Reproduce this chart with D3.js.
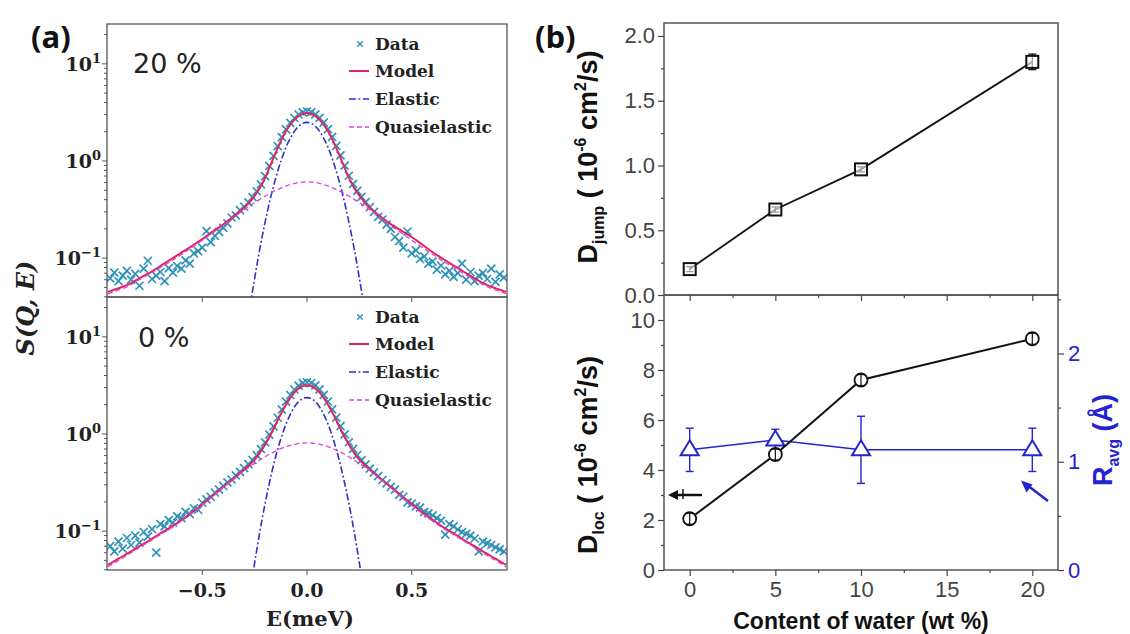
<!DOCTYPE html>
<html><head><meta charset="utf-8">
<script src="https://cdn.jsdelivr.net/npm/d3@7"></script>
<style>html,body{margin:0;padding:0;background:#fff;} svg{display:block;}</style>
</head><body>
<svg id="fig" width="1130" height="634"></svg>
<script>
// ---------- (a) QENS spectra: energy transfer grids (meV) ----------
const curveEnergy = [-0.95,-0.9,-0.85,-0.8,-0.75,-0.7,-0.65,-0.6,-0.55,-0.5,-0.45,-0.4,-0.35,-0.3,-0.275,-0.25,-0.225,-0.2,-0.175,-0.15,-0.125,-0.1,-0.075,-0.05,-0.025,0,0.025,0.05,0.075,0.1,0.125,0.15,0.175,0.2,0.225,0.25,0.275,0.3,0.35,0.4,0.45,0.5,0.55,0.6,0.65,0.7,0.75,0.8,0.85,0.9,0.95];
const elasticEnergy = [-0.3,-0.275,-0.25,-0.225,-0.2,-0.175,-0.15,-0.125,-0.1,-0.075,-0.05,-0.025,0,0.025,0.05,0.075,0.1,0.125,0.15,0.175,0.2,0.225,0.25,0.275,0.3];
const dataEnergy = [-0.94,-0.92,-0.9,-0.88,-0.86,-0.84,-0.82,-0.8,-0.78,-0.76,-0.74,-0.72,-0.7,-0.68,-0.66,-0.64,-0.62,-0.6,-0.58,-0.56,-0.54,-0.52,-0.5,-0.48,-0.46,-0.44,-0.42,-0.4,-0.38,-0.36,-0.34,-0.32,-0.3,-0.28,-0.26,-0.24,-0.22,-0.2,-0.18,-0.16,-0.14,-0.12,-0.1,-0.08,-0.06,-0.04,-0.02,0,0.02,0.04,0.06,0.08,0.1,0.12,0.14,0.16,0.18,0.2,0.22,0.24,0.26,0.28,0.3,0.32,0.34,0.36,0.38,0.4,0.42,0.44,0.46,0.48,0.5,0.52,0.54,0.56,0.58,0.6,0.62,0.64,0.66,0.68,0.7,0.72,0.74,0.76,0.78,0.8,0.82,0.84,0.86,0.88,0.9,0.92,0.94];

// 20 wt% water
const data20 = [0.062,0.071,0.058,0.066,0.074,0.060,0.069,0.052,0.078,0.094,0.061,0.066,0.072,0.058,0.079,0.071,0.083,0.078,0.095,0.088,0.112,0.118,0.128,0.190,0.146,0.170,0.186,0.205,0.228,0.262,0.276,0.312,0.338,0.375,0.425,0.488,0.575,0.700,0.890,1.130,1.420,1.760,2.120,2.470,2.770,3.010,3.170,
  3.230,
  3.180,3.020,2.780,2.480,2.130,1.770,1.430,1.140,0.895,0.705,0.580,0.492,0.428,0.378,0.335,0.300,0.266,0.250,0.221,0.200,0.165,0.150,0.128,0.188,0.112,0.120,0.098,0.104,0.088,0.092,0.076,0.084,0.068,0.074,0.064,0.070,0.088,0.060,0.072,0.058,0.066,0.070,0.061,0.078,0.057,0.068,0.063];
const model20 = [0.045,0.049,0.054,0.062,0.071,0.083,0.097,0.114,0.133,0.157,0.188,0.222,0.27,0.33,0.375,0.44,0.53,0.67,0.90,1.21,1.60,2.03,2.44,2.79,3.02,3.11,3.02,2.79,2.44,2.03,1.60,1.21,0.90,0.67,0.53,0.44,0.375,0.33,0.27,0.224,0.192,0.165,0.138,0.115,0.098,0.084,0.072,0.062,0.054,0.049,0.045];
const quasi20 = [0.043,0.047,0.052,0.060,0.069,0.080,0.093,0.109,0.129,0.153,0.182,0.215,0.262,0.316,0.343,0.372,0.403,0.434,0.466,0.497,0.526,0.553,0.576,0.594,0.606,0.610,0.606,0.594,0.576,0.553,0.526,0.497,0.466,0.434,0.403,0.372,0.343,0.316,0.262,0.215,0.182,0.153,0.129,0.109,0.093,0.080,0.069,0.060,0.052,0.047,0.043];
const elastic20 = [0.012,0.029,0.062,0.126,0.235,0.41,0.66,0.99,1.39,1.79,2.16,2.41,2.50,2.41,2.16,1.79,1.39,0.99,0.66,0.41,0.235,0.126,0.062,0.029,0.012];

// 0 wt% water
const data0 = [0.070,0.062,0.078,0.066,0.085,0.072,0.090,0.076,0.098,0.088,0.105,0.060,0.118,0.112,0.130,0.122,0.142,0.136,0.158,0.150,0.172,0.166,0.196,0.212,0.226,0.250,0.268,0.292,0.318,0.340,0.375,0.408,0.445,0.490,0.540,0.605,0.700,0.820,0.985,1.200,1.470,1.780,2.150,2.520,2.870,3.150,3.340,
  3.410,
  3.350,3.160,2.880,2.530,2.160,1.790,1.475,1.205,0.990,0.822,0.702,0.608,0.538,0.486,0.440,0.402,0.368,0.336,0.310,0.286,0.268,0.236,0.226,0.198,0.192,0.180,0.175,0.158,0.152,0.145,0.136,0.128,0.092,0.118,0.112,0.104,0.098,0.094,0.090,0.084,0.062,0.078,0.075,0.072,0.068,0.065,0.062];
const model0 = [0.045,0.052,0.060,0.070,0.081,0.095,0.110,0.130,0.155,0.188,0.231,0.285,0.347,0.428,0.48,0.545,0.64,0.78,0.97,1.25,1.60,2.01,2.44,2.82,3.08,3.18,3.08,2.82,2.44,2.01,1.60,1.25,0.97,0.78,0.64,0.545,0.48,0.428,0.347,0.285,0.231,0.190,0.157,0.131,0.110,0.095,0.081,0.070,0.060,0.052,0.045];
const quasi0 = [0.043,0.050,0.058,0.068,0.079,0.092,0.107,0.127,0.152,0.185,0.228,0.282,0.345,0.420,0.458,0.498,0.540,0.583,0.626,0.667,0.706,0.741,0.770,0.792,0.805,0.81,0.805,0.792,0.770,0.741,0.706,0.667,0.626,0.583,0.540,0.498,0.458,0.420,0.345,0.282,0.228,0.185,0.152,0.127,0.107,0.092,0.079,0.068,0.058,0.050,0.043];
const elastic0 = [0.0084,0.021,0.047,0.099,0.193,0.347,0.58,0.89,1.27,1.67,2.03,2.28,2.37,2.28,2.03,1.67,1.27,0.89,0.58,0.347,0.193,0.099,0.047,0.021,0.0084];

const energyTicks = [-0.5, 0, 0.5];
const energyTickLabels = ['\u22120.5', '0.0', '0.5'];
const legendLabels = ['Data', 'Model', 'Elastic', 'Quasielastic'];

// ---------- (b) fitted parameters vs water content ----------
const waterContent = [0, 5, 10, 20];
const dJump = [0.20, 0.66, 0.97, 1.80];
const dJumpErr = [0.02, 0.02, 0.02, 0.06];
const dLoc = [2.05, 4.62, 7.60, 9.25];
const dLocErr = [0.22, 0.22, 0.22, 0.22];
const rAvg = [1.11, 1.20, 1.11, 1.11];
const rAvgErr = [0.20, 0.10, 0.31, 0.20];

const waterTicks = [0, 5, 10, 15, 20];
const waterMinor = [2.5, 7.5, 12.5, 17.5];
const jumpTicks = [0, 0.5, 1.0, 1.5, 2.0];
const jumpMinor = [0.25, 0.75, 1.25, 1.75];
const locTicks = [0, 2, 4, 6, 8, 10];
const locMinor = [1, 3, 5, 7, 9];
const radiusTicks = [0, 1, 2];
const radiusMinor = [0.5, 1.5, 2.5];

// ---------- styles ----------
const serif = "'DejaVu Serif', serif";
const sans = "'Liberation Sans', Arial, sans-serif";
const frameColor = '#555';
const dataColor = '#2f92b8';
const modelColor = '#e0245e';
const elasticColor = '#3030c8';
const quasiColor = '#e040d8';
const blue = '#2323d0';

const svg = d3.select('#fig');

// ======================= panel (a) =======================
const xE = d3.scaleLinear().domain([-0.955, 0.955]).range([107, 507]);
const spectra = [
  {top: 24, bottom: 297, tag: '20 %', tagX: 133, tagY: 73, data: data20, model: model20, quasi: quasi20, elastic: elastic20, id: 'c20'},
  {top: 297, bottom: 570, tag: '0 %', tagX: 138, tagY: 347, data: data0, model: model0, quasi: quasi0, elastic: elastic0, id: 'c0'}
];

const defs = svg.append('defs');
const xMark = 'M-4,-4L4,4M-4,4L4,-4';

spectra.forEach(p => {
  const y = d3.scaleLog().domain([Math.pow(10, -1.4), Math.pow(10, 1.41)]).range([p.bottom, p.top]);
  const g = svg.append('g');
  defs.append('clipPath').attr('id', p.id).append('rect')
    .attr('x', 107).attr('y', p.top).attr('width', 400).attr('height', p.bottom - p.top);
  const plot = g.append('g').attr('clip-path', `url(#${p.id})`);

  // data markers
  plot.selectAll('path.pt').data(p.data).join('path')
    .attr('class', 'pt')
    .attr('transform', (d, i) => `translate(${xE(dataEnergy[i])},${y(d)})`)
    .attr('d', xMark).attr('stroke', dataColor).attr('stroke-width', 1.7).attr('fill', 'none');

  const line = (xs) => d3.line().x((d, i) => xE(xs[i])).y(d => y(d)).curve(d3.curveMonotoneX);
  plot.append('path').datum(p.model).attr('d', line(curveEnergy))
    .attr('fill', 'none').attr('stroke', modelColor).attr('stroke-width', 2);
  plot.append('path').datum(p.elastic).attr('d', line(elasticEnergy))
    .attr('fill', 'none').attr('stroke', elasticColor).attr('stroke-width', 1.6)
    .attr('stroke-dasharray', '7,2.5,1.8,2.5');
  plot.append('path').datum(p.quasi).attr('d', line(curveEnergy))
    .attr('fill', 'none').attr('stroke', quasiColor).attr('stroke-width', 1.3)
    .attr('stroke-dasharray', '5,3');

  // frame
  g.append('rect').attr('x', 107).attr('y', p.top).attr('width', 400).attr('height', p.bottom - p.top)
    .attr('fill', 'none').attr('stroke', frameColor).attr('stroke-width', 1.3);

  // log ticks on the left
  y.ticks().forEach(v => {
    const major = Math.abs(Math.log10(v) - Math.round(Math.log10(v))) < 1e-9;
    g.append('line').attr('x1', 107).attr('x2', 107 - (major ? 5 : 3))
      .attr('y1', y(v)).attr('y2', y(v)).attr('stroke', frameColor).attr('stroke-width', 1);
    if (major) {
      const e = Math.round(Math.log10(v));
      const t = g.append('text').attr('x', 101).attr('y', y(v) + 7)
        .attr('text-anchor', 'end').attr('font-family', serif).attr('font-weight', 'bold')
        .attr('font-size', 19).attr('fill', '#222');
      t.append('tspan').text('10');
      t.append('tspan').attr('dy', -8).attr('font-size', 13).text(e < 0 ? '\u2212' + (-e) : String(e));
    }
  });

  // energy ticks at the bottom
  energyTicks.forEach(v => {
    g.append('line').attr('x1', xE(v)).attr('x2', xE(v)).attr('y1', p.bottom).attr('y2', p.bottom + 5)
      .attr('stroke', frameColor).attr('stroke-width', 1);
  });

  // composition tag
  g.append('text').attr('x', p.tagX).attr('y', p.tagY).attr('font-family', "'DejaVu Sans', sans-serif")
    .attr('font-size', 27).attr('fill', '#222').text(p.tag);

  // legend
  const lg = g.append('g').attr('transform', `translate(0,${p.top - 24})`);
  const rows = [50, 77, 105, 133];
  legendLabels.forEach((lab, i) => {
    lg.append('text').attr('x', 375).attr('y', rows[i]).attr('font-family', serif)
      .attr('font-weight', 'bold').attr('font-size', 17).attr('fill', '#222').text(lab);
  });
  lg.append('path').attr('transform', `translate(360,${rows[0] - 6})`).attr('d', 'M-2.8,-2.8L2.8,2.8M-2.8,2.8L2.8,-2.8')
    .attr('stroke', dataColor).attr('stroke-width', 1.4);
  lg.append('line').attr('x1', 349).attr('x2', 369).attr('y1', rows[1] - 6).attr('y2', rows[1] - 6)
    .attr('stroke', modelColor).attr('stroke-width', 2);
  lg.append('line').attr('x1', 349).attr('x2', 369).attr('y1', rows[2] - 6).attr('y2', rows[2] - 6)
    .attr('stroke', elasticColor).attr('stroke-width', 1.6).attr('stroke-dasharray', '7,2.5,1.8,2.5');
  lg.append('line').attr('x1', 349).attr('x2', 369).attr('y1', rows[3] - 6).attr('y2', rows[3] - 6)
    .attr('stroke', quasiColor).attr('stroke-width', 1.3).attr('stroke-dasharray', '5,3');
});

// energy tick labels and axis titles
energyTicks.forEach((v, i) => {
  svg.append('text').attr('x', xE(v)).attr('y', 597).attr('text-anchor', 'middle')
    .attr('font-family', serif).attr('font-weight', 'bold').attr('font-size', 19).attr('fill', '#222')
    .text(energyTickLabels[i]);
});
svg.append('text').attr('x', 310).attr('y', 626).attr('text-anchor', 'middle')
  .attr('font-family', serif).attr('font-weight', 'bold').attr('font-size', 21).attr('fill', '#222')
  .text('E(meV)');
svg.append('text').attr('transform', 'translate(34,308) rotate(-90)').attr('text-anchor', 'middle')
  .attr('font-family', serif).attr('font-weight', 'bold').attr('font-style', 'italic')
  .attr('font-size', 24).attr('fill', '#222').text('S(Q, E)');

// panel letters
svg.append('text').attr('x', 31).attr('y', 48).attr('font-family', "'Open Sans', sans-serif")
  .attr('font-weight', 'bold').attr('font-size', 31).attr('fill', '#111').text('(a)');
svg.append('text').attr('x', 535).attr('y', 48).attr('font-family', "'Open Sans', sans-serif")
  .attr('font-weight', 'bold').attr('font-size', 31).attr('fill', '#111').text('(b)');

// ======================= panel (b) =======================
const bx0 = 664, bx1 = 1058;
const xW = d3.scaleLinear().domain([-1.5, 21.5]).range([bx0, bx1]);
const yJump = d3.scaleLinear().domain([0, 2.1]).range([295, 23]);
const yLoc = d3.scaleLinear().domain([0, 11]).range([570, 295]);
const yR = d3.scaleLinear().domain([0, 2.54]).range([570, 295]);

function styleAxis(sel, color, fontSize) {
  sel.select('.domain').remove();
  sel.selectAll('.tick line').attr('stroke', '#444').attr('stroke-width', 1.2);
  sel.selectAll('.tick text').attr('fill', color).attr('font-family', sans).attr('font-size', fontSize);
}
function addAxis(axis, tx, ty, color) {
  const a = svg.append('g').attr('transform', `translate(${tx},${ty})`).call(axis);
  styleAxis(a, color || '#444', 22);
  return a;
}

// frames
svg.append('rect').attr('x', bx0).attr('y', 23).attr('width', bx1 - bx0).attr('height', 272)
  .attr('fill', 'none').attr('stroke', frameColor).attr('stroke-width', 1.5);
svg.append('rect').attr('x', bx0).attr('y', 295).attr('width', bx1 - bx0).attr('height', 275)
  .attr('fill', 'none').attr('stroke', frameColor).attr('stroke-width', 1.5);

// top panel axes
addAxis(d3.axisLeft(yJump).tickValues(jumpTicks).tickSize(6).tickPadding(3).tickFormat(d3.format('.1f')), bx0, 0);
addAxis(d3.axisLeft(yJump).tickValues(jumpMinor).tickSize(3).tickFormat(''), bx0, 0);
addAxis(d3.axisBottom(xW).tickValues(waterTicks).tickSize(6).tickFormat(''), 0, 295);
addAxis(d3.axisBottom(xW).tickValues(waterMinor).tickSize(3).tickFormat(''), 0, 295);

// bottom panel axes
addAxis(d3.axisLeft(yLoc).tickValues(locTicks).tickSize(6).tickPadding(3).tickFormat(d3.format('d')), bx0, 0);
addAxis(d3.axisLeft(yLoc).tickValues(locMinor).tickSize(3).tickFormat(''), bx0, 0);
addAxis(d3.axisBottom(xW).tickValues(waterTicks).tickSize(6).tickPadding(5).tickFormat(d3.format('d')), 0, 570);
addAxis(d3.axisBottom(xW).tickValues(waterMinor).tickSize(3).tickFormat(''), 0, 570);
addAxis(d3.axisRight(yR).tickValues(radiusTicks).tickSize(6).tickPadding(4).tickFormat(d3.format('d')), bx1, 0, blue);
addAxis(d3.axisRight(yR).tickValues(radiusMinor).tickSize(3).tickFormat(''), bx1, 0);

// error bars helper
function errBars(vals, errs, ys, color, cap, width) {
  const g = svg.append('g').attr('stroke', color).attr('stroke-width', width).attr('fill', 'none');
  vals.forEach((v, i) => {
    const x = xW(waterContent[i]);
    g.append('line').attr('x1', x).attr('x2', x).attr('y1', ys(v - errs[i])).attr('y2', ys(v + errs[i]));
    [v - errs[i], v + errs[i]].forEach(e => g.append('line')
      .attr('x1', x - cap).attr('x2', x + cap).attr('y1', ys(e)).attr('y2', ys(e)));
  });
}

// D_jump series
svg.append('path').datum(dJump)
  .attr('d', d3.line().x((d, i) => xW(waterContent[i])).y(d => yJump(d)))
  .attr('fill', 'none').attr('stroke', '#111').attr('stroke-width', 1.8);
errBars(dJump, dJumpErr, yJump, '#111', 4, 1.3);
svg.append('g').selectAll('rect').data(dJump).join('rect')
  .attr('x', (d, i) => xW(waterContent[i]) - 6).attr('y', d => yJump(d) - 6)
  .attr('width', 12).attr('height', 12).attr('fill', 'white').attr('fill-opacity', 0.6)
  .attr('stroke', '#111').attr('stroke-width', 2);

// R_avg series (right axis)
svg.append('path').datum(rAvg)
  .attr('d', d3.line().x((d, i) => xW(waterContent[i])).y(d => yR(d)))
  .attr('fill', 'none').attr('stroke', blue).attr('stroke-width', 1.5);
errBars(rAvg, rAvgErr, yR, blue, 4, 1.4);
svg.append('g').selectAll('path').data(rAvg).join('path')
  .attr('transform', (d, i) => `translate(${xW(waterContent[i])},${yR(d)})`)
  .attr('d', 'M0,-9.5L9,5.5L-9,5.5Z').attr('fill', 'white').attr('stroke', blue).attr('stroke-width', 2);

// D_loc series
svg.append('path').datum(dLoc)
  .attr('d', d3.line().x((d, i) => xW(waterContent[i])).y(d => yLoc(d)))
  .attr('fill', 'none').attr('stroke', '#111').attr('stroke-width', 2);
svg.append('g').selectAll('circle').data(dLoc).join('circle')
  .attr('cx', (d, i) => xW(waterContent[i])).attr('cy', d => yLoc(d)).attr('r', 6.5)
  .attr('fill', 'white').attr('stroke', '#111').attr('stroke-width', 1.8);
errBars(dLoc, dLocErr, yLoc, '#111', 4, 1.2);

// arrows pointing to the matching axes
const arrows = svg.append('g');
arrows.append('line').attr('x1', 702).attr('y1', 495).attr('x2', 674).attr('y2', 495)
  .attr('stroke', '#111').attr('stroke-width', 2.5);
arrows.append('path').attr('d', 'M668,495L678,490L678,500Z').attr('fill', '#111');
arrows.append('line').attr('x1', 683).attr('y1', 489).attr('x2', 683).attr('y2', 499)
  .attr('stroke', '#111').attr('stroke-width', 1.5);
arrows.append('line').attr('x1', 1048).attr('y1', 501).attr('x2', 1027).attr('y2', 485)
  .attr('stroke', blue).attr('stroke-width', 2.5);
arrows.append('path').attr('d', 'M1021,480.5L1032.5,484.5L1026.5,492.5Z').attr('fill', blue);

// axis titles
function richLabel(x, y, color, parts) {
  const t = svg.append('text').attr('transform', `translate(${x},${y}) rotate(-90)`)
    .attr('text-anchor', 'middle').attr('font-family', sans).attr('font-weight', 'bold')
    .attr('font-size', 27).attr('fill', color);
  parts.forEach(p => {
    const s = t.append('tspan').text(p.t);
    if (p.dy) s.attr('dy', p.dy);
    if (p.size) s.attr('font-size', p.size);
  });
  return t;
}
richLabel(597, 157, '#111', [
  {t: 'D'}, {t: 'jump', size: 16, dy: 7}, {t: ' ( 10', dy: -7}, {t: '-6', size: 16, dy: -11},
  {t: ' cm', dy: 11}, {t: '2', size: 16, dy: -11}, {t: '/s)', dy: 11}
]);
richLabel(597, 455, '#111', [
  {t: 'D'}, {t: 'loc', size: 16, dy: 7}, {t: ' ( 10', dy: -7}, {t: '-6', size: 16, dy: -11},
  {t: ' cm', dy: 11}, {t: '2', size: 16, dy: -11}, {t: '/s)', dy: 11}
]);
richLabel(1112, 440, blue, [
  {t: 'R'}, {t: 'avg', size: 16, dy: 7}, {t: ' (\u00C5)', dy: -7}
]);
svg.append('text').attr('x', 861).attr('y', 629).attr('text-anchor', 'middle')
  .attr('font-family', sans).attr('font-weight', 'bold').attr('font-size', 23).attr('fill', '#111')
  .text('Content of water (wt %)');
</script>
</body></html>
